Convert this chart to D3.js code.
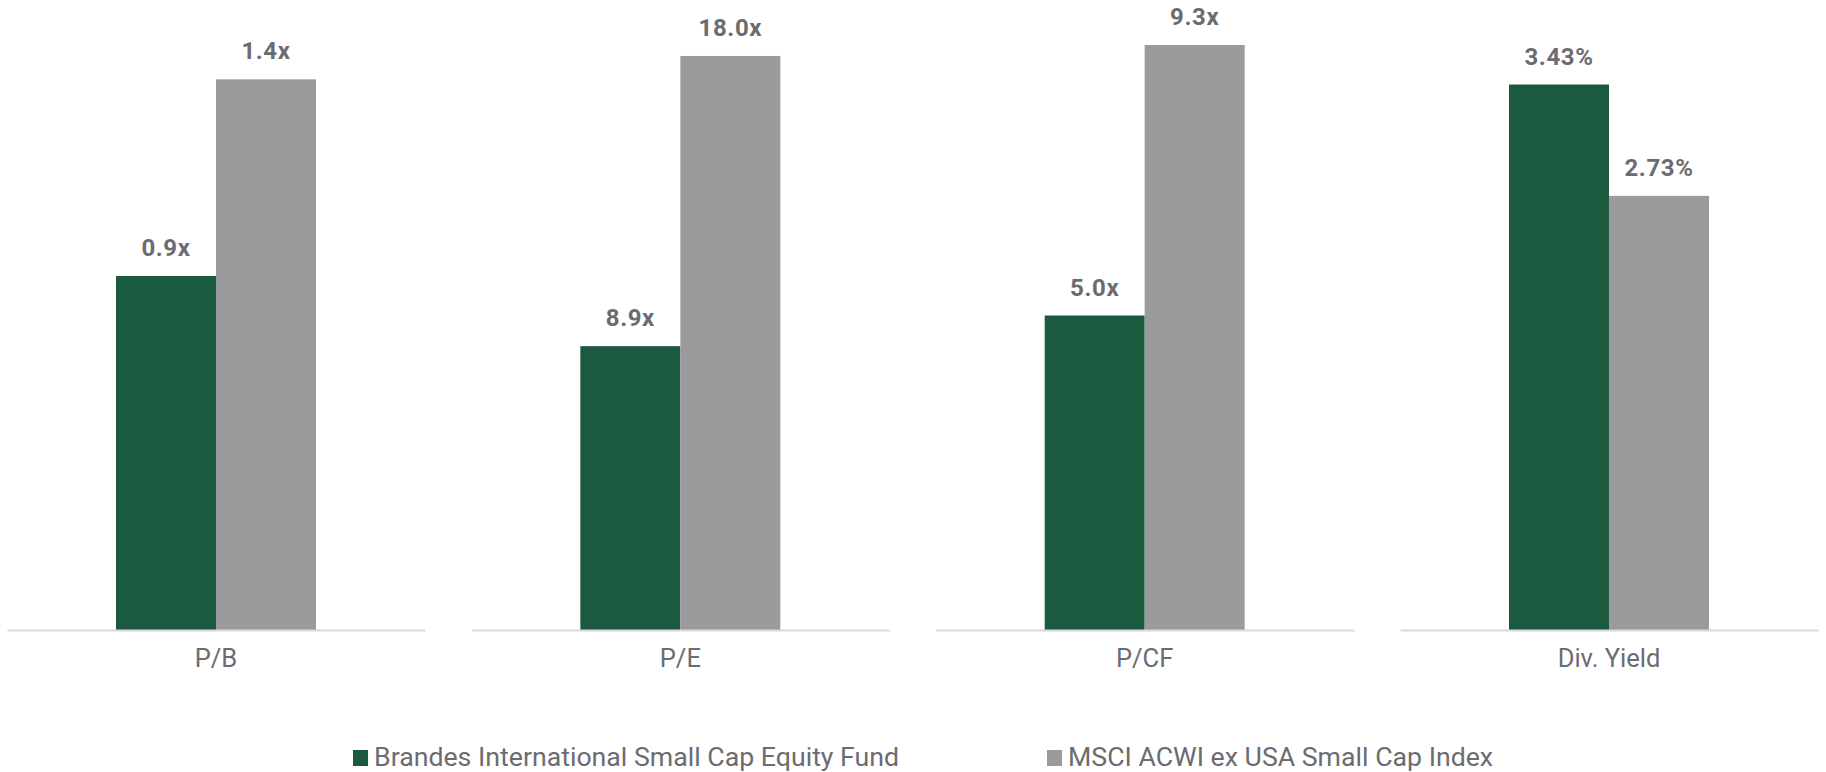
<!DOCTYPE html>
<html><head><meta charset="utf-8">
<script src="https://cdn.jsdelivr.net/npm/d3@7"></script>
<style>html,body{margin:0;padding:0;background:#fff;}svg{display:block;font-family:Roboto,"Noto Sans",sans-serif;}</style>
</head><body>
<svg id="c" width="1826" height="772"></svg>
<script>
const categories = ["P/B", "P/E", "P/CF", "Div. Yield"];
const seriesNames = ["Brandes International Small Cap Equity Fund", "MSCI ACWI ex USA Small Cap Index"];
const fundValues = [0.9, 8.9, 5.0, 3.43];
const indexValues = [1.4, 18.0, 9.3, 2.73];
const fundLabels = ["0.9x", "8.9x", "5.0x", "3.43%"];
const indexLabels = ["1.4x", "18.0x", "9.3x", "2.73%"];
const panelMax = [1.5, 18.5, 9.38, 3.71];
const colors = ["#1b5a3e", "#9a9b9c"];
const textColor = "#6b6c70";

const svg = d3.select("#c");
const baseY = 630, topY = 40;
const xPanel = d3.scalePoint().domain(categories).range([216, 1609]);
const xSeries = d3.scaleBand().domain([0, 1]).range([-100, 100]).padding(0);

categories.forEach((cat, i) => {
  const cx = xPanel(cat);
  const y = d3.scaleLinear().domain([0, panelMax[i]]).range([baseY, topY]);
  const g = svg.append("g").attr("transform", `translate(${cx},0)`);
  const vals = [fundValues[i], indexValues[i]];
  const labs = [fundLabels[i], indexLabels[i]];
  g.selectAll("rect").data(vals).join("rect")
    .attr("x", (d, j) => xSeries(j))
    .attr("width", xSeries.bandwidth())
    .attr("y", d => y(d))
    .attr("height", d => y(0) - y(d))
    .attr("fill", (d, j) => colors[j]);
  g.selectAll("text.val").data(vals).join("text").attr("class", "val")
    .attr("x", (d, j) => xSeries(j) + xSeries.bandwidth() / 2)
    .attr("y", d => y(d) - 20)
    .attr("text-anchor", "middle")
    .attr("font-size", 24).attr("font-weight", 700)
    .attr("letter-spacing", 0.6)
    .attr("fill", textColor)
    .text((d, j) => labs[j]);
  const xa = d3.scaleLinear().domain([0, 1]).range([-209, 209]);
  const axis = d3.axisBottom(xa).tickValues([]).tickSizeOuter(0);
  const ag = g.append("g").attr("transform", `translate(0,${baseY})`).call(axis);
  ag.select(".domain").attr("stroke", "#d9d9d9").attr("stroke-width", 2);
  g.append("text").attr("x", 0).attr("y", 667)
    .attr("text-anchor", "middle").attr("font-size", 25.5)
    .attr("fill", textColor).text(cat);
});

const legX = [353, 1047];
seriesNames.forEach((s, j) => {
  const lg = svg.append("g").attr("transform", `translate(${legX[j]},758)`);
  lg.append("rect").attr("x", 0).attr("y", -8).attr("width", 15).attr("height", 16).attr("fill", colors[j]);
  lg.append("text").attr("x", 21).attr("y", 8).attr("font-size", 26.7).attr("fill", textColor).text(s);
});
</script>
</body></html>
